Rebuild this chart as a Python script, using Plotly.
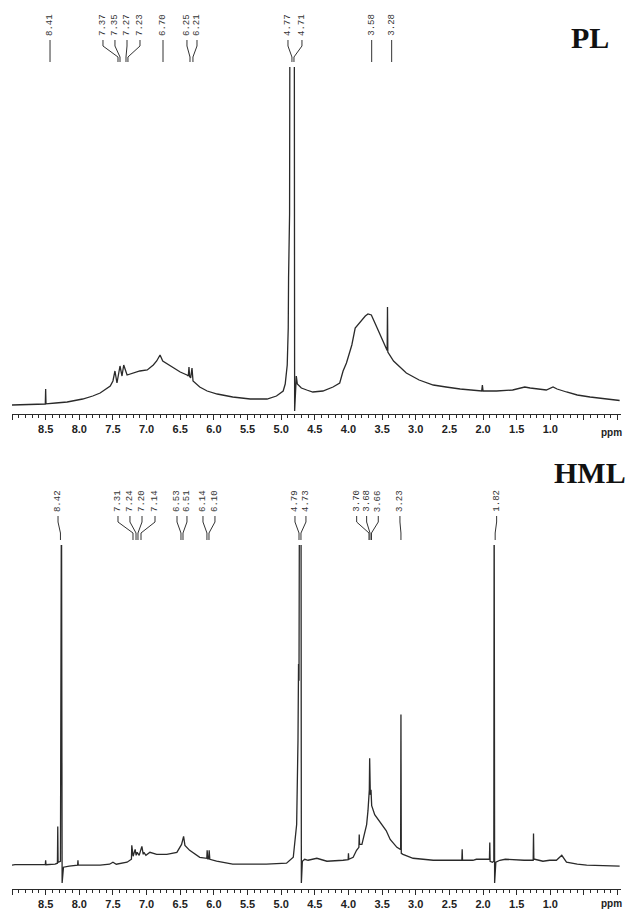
import plotly.graph_objects as go

# ---------------- data (ppm on the drawn axis, intensity in arbitrary units) ----------------
pl_ppm = [9.00, 8.80, 8.51, 8.505, 8.50, 8.495, 8.35, 8.18, 7.95, 7.80, 7.69, 7.60, 7.54, 7.50,
          7.47, 7.44, 7.425, 7.395, 7.365, 7.34, 7.29, 7.25, 7.20, 7.10, 6.99, 6.90, 6.85, 6.80,
          6.76, 6.65, 6.50, 6.40, 6.38, 6.37, 6.36, 6.345, 6.325, 6.31, 6.21, 6.10, 5.95, 5.72,
          5.46, 5.21, 5.07, 4.97, 4.94, 4.91, 4.895, 4.89, 4.875, 4.87, 4.805, 4.80, 4.79, 4.775,
          4.76, 4.70, 4.62, 4.53, 4.38, 4.23, 4.13, 4.08, 4.03, 3.95, 3.90, 3.86, 3.78, 3.75,
          3.71, 3.66, 3.60, 3.53, 3.47, 3.425, 3.42, 3.415, 3.33, 3.14, 2.95, 2.74, 2.55, 2.34,
          2.02, 2.01, 2.00, 1.80, 1.56, 1.45, 1.38, 1.30, 1.15, 1.06, 0.96, 0.90, 0.76, 0.60,
          0.41, 0.20, 0.09, -0.03]
pl_int = [9, 9.5, 10, 10, 25, 10.2, 11, 12, 15, 18, 21, 25, 28, 33,
          43, 31, 38, 48, 38, 49, 39, 40, 41, 43, 44, 49, 53, 59,
          53, 48, 42, 39, 38, 47, 37.5, 36, 46, 33, 27, 23, 20, 17,
          15, 15, 18, 23, 30, 49, 86, 136, 200, 420, 420, 3, 20, 38,
          30, 26, 24, 22, 23, 27, 31, 43, 51, 69, 86, 89, 96, 98,
          100, 99, 90, 79, 70, 63.5, 107, 62, 53, 41, 34, 29, 27, 25,
          23, 29, 23, 23, 24, 26, 27, 26, 25, 24, 27, 25, 22, 19,
          17, 15, 14, 13.5]

hml_ppm = [9.00, 8.955, 8.70, 8.505, 8.50, 8.495, 8.36, 8.325, 8.32, 8.315, 8.28, 8.275, 8.265,
           8.255, 8.235, 8.15, 8.025, 8.02, 8.015, 7.85, 7.69, 7.55, 7.50, 7.45, 7.29, 7.225,
           7.22, 7.20, 7.17, 7.155, 7.14, 7.11, 7.07, 7.05, 7.04, 7.01, 6.95, 6.85, 6.70, 6.55,
           6.48, 6.45, 6.43, 6.36, 6.21, 6.105, 6.10, 6.09, 6.075, 6.07, 6.06, 5.96, 5.72, 5.22,
           4.92, 4.82, 4.77, 4.75, 4.742, 4.735, 4.728, 4.705, 4.70, 4.685, 4.65, 4.60, 4.47,
           4.32, 4.08, 4.005, 4.00, 3.995, 3.93, 3.88, 3.845, 3.84, 3.835, 3.80, 3.73, 3.71,
           3.69, 3.685, 3.675, 3.665, 3.655, 3.61, 3.53, 3.44, 3.38, 3.28, 3.23, 3.225, 3.22,
           3.215, 3.19, 3.04, 2.74, 2.50, 2.315, 2.31, 2.305, 2.15, 2.10, 1.97, 1.905, 1.90,
           1.895, 1.86, 1.84, 1.835, 1.828, 1.81, 1.75, 1.67, 1.50, 1.39, 1.30, 1.255, 1.25,
           1.245, 1.23, 1.11, 1.01, 0.91, 0.83, 0.76, 0.60, 0.46, -0.03]
hml_int = [24, 24.5, 24.5, 24.5, 29, 24.5, 25, 26, 63, 27, 28, 420, 420,
           6, 22, 23, 24, 29, 24, 24, 24, 25, 27, 25, 27, 30,
           44, 33, 40, 34, 37, 34, 43, 35, 37, 34, 37, 35, 35, 37,
           45, 53, 44, 39, 32, 31, 39, 30.5, 30.5, 39, 30, 28, 25, 25,
           26, 32, 65, 150, 227, 210, 420, 420, 6, 28, 30, 29, 31,
           28, 29, 29.5, 36, 30, 32, 39, 42, 55, 45, 45, 65, 79,
           100, 132, 95, 100, 84, 75, 67, 59, 50, 42, 40, 40, 176,
           36, 35, 31, 29, 29, 29, 40, 29, 29, 30, 30, 30, 47,
           28, 27, 28, 420, 6, 27, 29, 30, 29, 29, 29, 29, 56,
           30, 30, 28, 29, 29, 34, 27, 25, 24, 23]

# peak labels: text, label position and peak position (ppm on the drawn axis)
pl_labels = ["8.41", "7.37", "7.35", "7.27", "7.23", "6.70", "6.25", "6.21", "4.77", "4.71", "3.58", "3.28"]
pl_label_pos = [8.435, 7.648, 7.470, 7.291, 7.098, 6.756, 6.400, 6.251, 4.899, 4.691, 3.655, 3.358]
pl_peak_pos = [8.435, 7.425, 7.395, 7.306, 7.277, 6.756, 6.355, 6.311, 4.840, 4.810, 3.655, 3.358]

hml_labels = ["8.42", "7.31", "7.24", "7.20", "7.14", "6.53", "6.51", "6.14", "6.10", "4.79", "4.73",
              "3.70", "3.68", "3.66", "3.23", "1.82"]
hml_label_pos = [8.316, 7.425, 7.247, 7.068, 6.875, 6.548, 6.400, 6.162, 5.984, 4.795, 4.632,
                 3.878, 3.730, 3.557, 3.235, 1.798]
hml_peak_pos = [8.280, 7.202, 7.157, 7.128, 7.083, 6.489, 6.459, 6.103, 6.073, 4.735, 4.706,
                3.695, 3.680, 3.658, 3.220, 1.820]

tick_vals = [9.0, 8.5, 8.0, 7.5, 7.0, 6.5, 6.0, 5.5, 5.0, 4.5, 4.0, 3.5, 3.0, 2.5, 2.0, 1.5, 1.0, 0.5, 0.0]
tick_text = ["", "8.5", "8.0", "7.5", "7.0", "6.5", "6.0", "5.5", "5.0", "4.5", "4.0", "3.5",
             "3.0", "2.5", "2.0", "1.5", "1.0", "", ""]

W, H = 629, 909
LINE = "#2a2a2a"

fig = go.Figure()
fig.add_trace(go.Scatter(x=pl_ppm, y=pl_int, mode="lines", xaxis="x", yaxis="y",
                         line=dict(color=LINE, width=1.3), hoverinfo="skip", showlegend=False))
fig.add_trace(go.Scatter(x=hml_ppm, y=hml_int, mode="lines", xaxis="x2", yaxis="y2",
                         line=dict(color=LINE, width=1.3), hoverinfo="skip", showlegend=False))

def py(px):
    return 1 - px / H

xdom = [12 / W, 621 / W]
axis_common = dict(
    range=[9.0, -0.05], domain=xdom, tickmode="array", tickvals=tick_vals, ticktext=tick_text,
    ticks="outside", ticklen=5, tickwidth=1, tickcolor=LINE, showline=True, linecolor=LINE,
    linewidth=1, showgrid=False, zeroline=False,
    tickfont=dict(family="Liberation Sans", size=11, color="#222", weight="bold"),
    minor=dict(dtick=0.1, tick0=0, ticks="outside", ticklen=3, tickwidth=1, tickcolor=LINE,
               showgrid=False),
)

fig.update_layout(
    width=W, height=H, margin=dict(l=0, r=0, t=0, b=0),
    paper_bgcolor="white", plot_bgcolor="white",
    xaxis=dict(anchor="y", **axis_common),
    yaxis=dict(domain=[py(414), py(67)], range=[0, 347], visible=False),
    xaxis2=dict(anchor="y2", **axis_common),
    yaxis2=dict(domain=[py(889), py(545)], range=[0, 347], visible=False),
)

shapes = []
annotations = []

def add_labels(labels, lpos, ppos, xref, ytext, y0, y1, y2, y3):
    for t, lx, tx in zip(labels, lpos, ppos):
        annotations.append(dict(text=t, x=lx, xref=xref, y=py(ytext), yref="paper",
                                xanchor="center", yanchor="bottom", textangle=-90, showarrow=False,
                                font=dict(family="Liberation Mono", size=9, color="#333")))
        for (xa, ya, xb, yb) in [(lx, y0, lx, y1), (lx, y1, tx, y2), (tx, y2, tx, y3)]:
            shapes.append(dict(type="line", xref=xref, yref="paper", x0=xa, y0=py(ya), x1=xb,
                               y1=py(yb), line=dict(color="#333", width=1)))

add_labels(pl_labels, pl_label_pos, pl_peak_pos, "x", 38, 40, 46, 57, 62)
add_labels(hml_labels, hml_label_pos, hml_peak_pos, "x2", 514, 516, 522, 533, 540)

annotations.append(dict(text="<b>PL</b>", x=590 / W, y=py(38), xref="paper", yref="paper",
                        showarrow=False, xanchor="center", yanchor="middle",
                        font=dict(family="Liberation Serif", size=30, color="#111")))
annotations.append(dict(text="<b>HML</b>", x=590 / W, y=py(472), xref="paper", yref="paper",
                        showarrow=False, xanchor="center", yanchor="middle",
                        font=dict(family="Liberation Serif", size=30, color="#111")))
annotations.append(dict(text="<b>ppm</b>", x=0.09, xref="x", y=py(432), yref="paper",
                        showarrow=False, xanchor="center", yanchor="middle",
                        font=dict(family="Liberation Sans", size=10, color="#222")))
annotations.append(dict(text="<b>ppm</b>", x=0.09, xref="x2", y=py(903), yref="paper",
                        showarrow=False, xanchor="center", yanchor="middle",
                        font=dict(family="Liberation Sans", size=10, color="#222")))

fig.update_layout(shapes=shapes, annotations=annotations)
fig.write_html("out.html")
